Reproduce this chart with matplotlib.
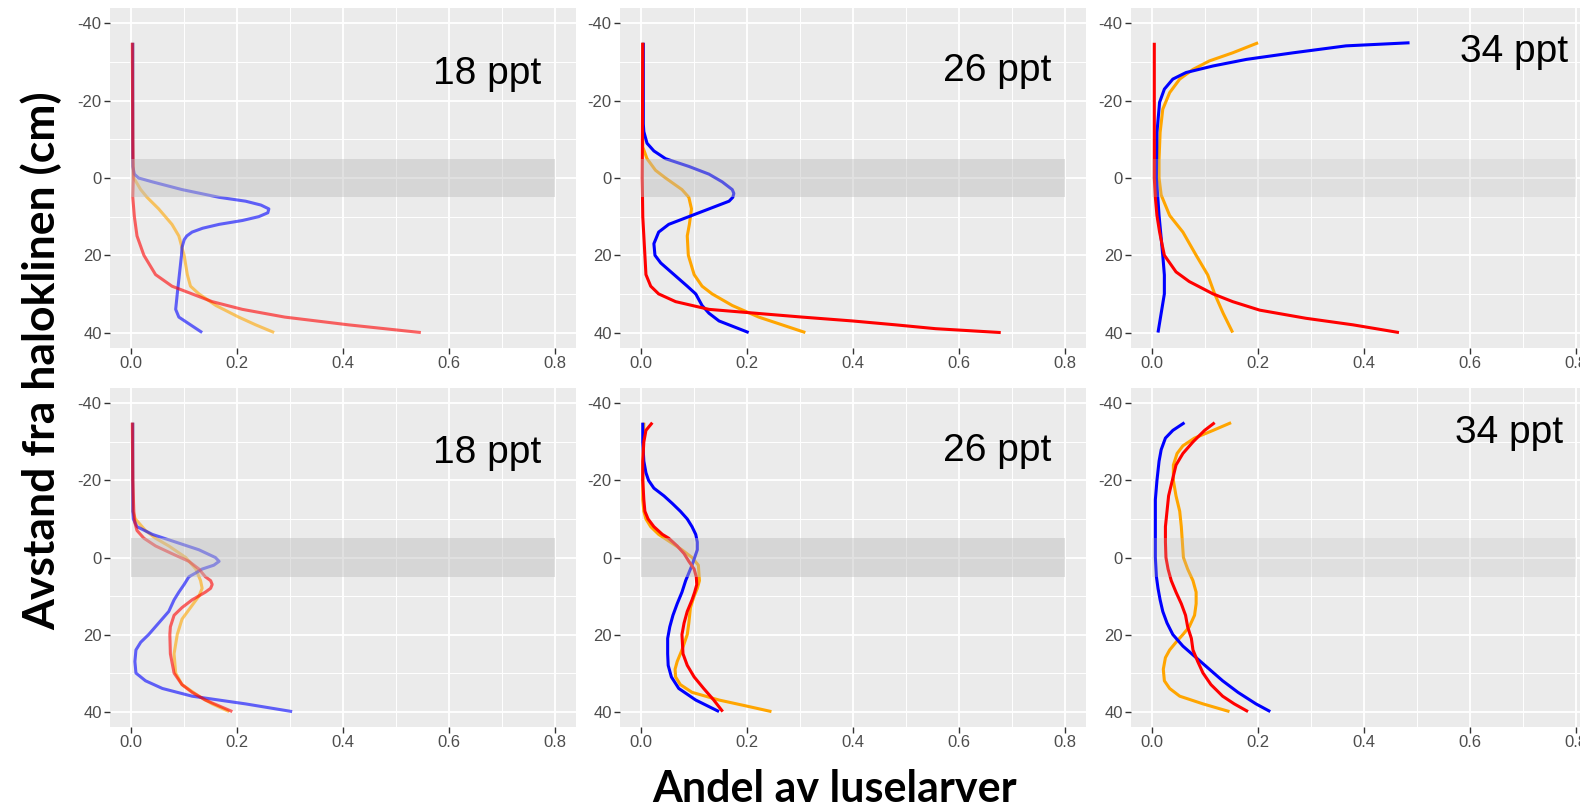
import numpy as np
import matplotlib
matplotlib.use("Agg")
import matplotlib.pyplot as plt

plt.rcParams["axes.unicode_minus"] = False

# Depth profiles (distance from halocline, cm) vs share of larvae, one list per line.
# Each entry is (depth, share).
top18_red = [(-35, 0.002), (-10, 0.003), (0, 0.004), (5, 0.003), (10, 0.006), (15, 0.011),
             (20, 0.024), (25, 0.046), (28, 0.077), (30, 0.115), (32, 0.153), (34, 0.21),
             (36, 0.29), (38, 0.41), (40, 0.547)]
top18_orange = [(-35, 0.003), (-5, 0.003), (0, 0.005), (3, 0.018), (5, 0.03), (8, 0.052),
                (12, 0.077), (15, 0.09), (20, 0.1), (25, 0.106), (28, 0.112), (30, 0.128),
                (33, 0.16), (36, 0.203), (38, 0.235), (40, 0.27)]
top18_blue = [(-35, 0.003), (-3, 0.003), (-1, 0.006), (0, 0.014), (1, 0.04), (3, 0.096),
              (5, 0.166), (6, 0.216), (7, 0.245), (8, 0.26), (9, 0.258), (10, 0.241),
              (11, 0.21), (12, 0.166), (13, 0.135), (14, 0.115), (15, 0.105), (16, 0.1),
              (18, 0.096), (20, 0.095), (25, 0.091), (30, 0.087), (34, 0.084), (36, 0.09),
              (38, 0.112), (40, 0.134)]

top26_red = [(-35, 0.003), (0, 0.002), (10, 0.003), (20, 0.007), (25, 0.009), (28, 0.018),
             (30, 0.033), (32, 0.065), (34, 0.128), (35, 0.216), (36, 0.304), (37, 0.399),
             (38, 0.48), (39, 0.556), (40, 0.679)]
top26_orange = [(-35, 0.003), (-10, 0.003), (-8, 0.003), (-5, 0.011), (-2, 0.027), (0, 0.046),
                (3, 0.077), (5, 0.09), (8, 0.095), (12, 0.091), (15, 0.087), (20, 0.089),
                (25, 0.1), (28, 0.115), (30, 0.134), (33, 0.172), (36, 0.222), (38, 0.266),
                (40, 0.31)]
top26_blue = [(-35, 0.004), (-14, 0.004), (-12, 0.005), (-9, 0.011), (-7, 0.024), (-5, 0.046),
              (-3, 0.09), (-1, 0.128), (1, 0.153), (3, 0.172), (4, 0.175), (5, 0.173),
              (6, 0.166), (8, 0.128), (10, 0.09), (12, 0.052), (14, 0.033), (17, 0.024),
              (20, 0.026), (22, 0.037), (25, 0.062), (28, 0.087), (30, 0.103), (33, 0.115),
              (35, 0.128), (37, 0.147), (40, 0.203)]

top34_red = [(-35, 0.004), (0, 0.004), (5, 0.006), (9.7, 0.009), (14, 0.014), (17.4, 0.019),
             (20, 0.023), (24.3, 0.045), (26.8, 0.07), (30, 0.115), (32, 0.152), (34.2, 0.203),
             (36.3, 0.29), (38, 0.379), (40, 0.466)]
top34_orange = [(-35, 0.2), (-32.4, 0.152), (-30.3, 0.108), (-28.1, 0.077), (-25.6, 0.052),
                (-22.1, 0.033), (-17.8, 0.02), (-11.8, 0.015), (-5, 0.013), (0, 0.013),
                (4.4, 0.017), (9.7, 0.033), (14, 0.058), (20, 0.083), (25.1, 0.105),
                (30, 0.118), (35, 0.134), (40, 0.152)]
top34_blue = [(-35, 0.486), (-34.2, 0.366), (-32.4, 0.266), (-30.7, 0.178), (-29, 0.115),
              (-27.3, 0.064), (-25.6, 0.039), (-23, 0.023), (-19.6, 0.014), (-11.8, 0.009),
              (0, 0.008), (9.7, 0.013), (20, 0.02), (25.1, 0.023), (30, 0.023), (35, 0.017),
              (40, 0.011)]

bot18_red = [(-35, 0.002), (-20, 0.003), (-12, 0.005), (-9, 0.007), (-7, 0.011), (-5, 0.024),
             (-3, 0.046), (-1, 0.077), (1, 0.109), (3, 0.128), (5, 0.14), (6, 0.15), (7, 0.153),
             (8, 0.15), (9, 0.14), (11, 0.115), (13, 0.096), (15, 0.081), (18, 0.074),
             (20, 0.073), (25, 0.074), (30, 0.081), (33, 0.096), (35, 0.115), (37, 0.14),
             (40, 0.191)]
bot18_orange = [(-35, 0.003), (-12, 0.003), (-10, 0.008), (-7, 0.027), (-5, 0.046), (-3, 0.071),
                (0, 0.103), (3, 0.122), (6, 0.131), (8, 0.134), (10, 0.128), (13, 0.112),
                (16, 0.096), (20, 0.087), (25, 0.081), (30, 0.084), (33, 0.096), (36, 0.128),
                (38, 0.153), (40, 0.185)]
bot18_blue = [(-35, 0.003), (-12, 0.003), (-10, 0.004), (-8, 0.011), (-6, 0.04), (-4, 0.084),
              (-2, 0.128), (0, 0.159), (1, 0.166), (2, 0.156), (3, 0.134), (4, 0.122),
              (5, 0.109), (7, 0.1), (9, 0.09), (11, 0.081), (14, 0.071), (17, 0.052),
              (20, 0.033), (22, 0.018), (24, 0.009), (27, 0.007), (30, 0.009), (32, 0.027),
              (34, 0.059), (36, 0.115), (38, 0.216), (40, 0.304)]

bot26_red = [(-35, 0.021), (-33, 0.009), (-30, 0.005), (-25, 0.003), (-20, 0.003), (-15, 0.005),
             (-12, 0.007), (-10, 0.013), (-8, 0.024), (-6, 0.04), (-5, 0.052), (-3, 0.068),
             (-1, 0.081), (1, 0.09), (3, 0.1), (5, 0.104), (7, 0.105), (9, 0.101), (11, 0.096),
             (14, 0.087), (17, 0.081), (20, 0.077), (25, 0.079), (28, 0.087), (31, 0.1),
             (34, 0.118), (37, 0.137), (40, 0.154)]
bot26_orange = [(-35, 0.005), (-20, 0.003), (-15, 0.003), (-12, 0.005), (-10, 0.009),
                (-8, 0.018), (-6, 0.033), (-4, 0.055), (-2, 0.077), (0, 0.096), (2, 0.108),
                (4, 0.109), (6, 0.11), (8, 0.106), (10, 0.1), (13, 0.093), (17, 0.09),
                (20, 0.087), (24, 0.077), (27, 0.068), (29, 0.064), (31, 0.065), (33, 0.074),
                (35, 0.096), (37, 0.147), (38.5, 0.197), (40, 0.246)]
bot26_blue = [(-35, 0.003), (-30, 0.003), (-25, 0.005), (-22, 0.009), (-20, 0.014), (-18, 0.024),
              (-16, 0.043), (-14, 0.059), (-12, 0.074), (-10, 0.087), (-8, 0.096), (-6, 0.103),
              (-4, 0.106), (-2, 0.106), (0, 0.101), (2, 0.096), (4, 0.09), (6, 0.084),
              (9, 0.077), (12, 0.068), (15, 0.06), (18, 0.054), (21, 0.05), (25, 0.05),
              (28, 0.051), (31, 0.057), (34, 0.071), (37, 0.103), (40, 0.147)]

bot34_red = [(-35, 0.118), (-33, 0.099), (-30, 0.077), (-27, 0.058), (-24, 0.045), (-20, 0.038),
             (-16, 0.031), (-12, 0.028), (-8, 0.025), (-4, 0.025), (0, 0.026), (3, 0.03),
             (6, 0.036), (9, 0.045), (12, 0.055), (15, 0.063), (18, 0.067), (21, 0.074),
             (24, 0.077), (27, 0.086), (30, 0.096), (33, 0.111), (36, 0.133), (38, 0.155),
             (40, 0.181)]
bot34_orange = [(-35, 0.149), (-33, 0.115), (-31, 0.08), (-29, 0.058), (-27, 0.047), (-24, 0.04),
                (-20, 0.04), (-16, 0.045), (-12, 0.052), (-8, 0.055), (-4, 0.057), (0, 0.059),
                (3, 0.067), (6, 0.077), (9, 0.083), (12, 0.083), (15, 0.08), (18, 0.07),
                (20, 0.058), (22, 0.045), (24, 0.033), (26, 0.025), (29, 0.021), (32, 0.023),
                (34, 0.033), (36, 0.052), (38, 0.096), (40, 0.146)]
bot34_blue = [(-35, 0.061), (-33, 0.039), (-31, 0.025), (-28, 0.017), (-25, 0.013), (-20, 0.009),
              (-15, 0.006), (-10, 0.006), (0, 0.006), (5, 0.008), (8, 0.011), (11, 0.015),
              (14, 0.02), (17, 0.028), (20, 0.039), (23, 0.058), (26, 0.083), (29, 0.108),
              (32, 0.133), (35, 0.162), (38, 0.196), (40, 0.223)]

salinity_labels = ["18 ppt", "26 ppt", "34 ppt"]
panels = [
    [top18_orange, top18_blue, top18_red],
    [top26_orange, top26_blue, top26_red],
    [top34_orange, top34_blue, top34_red],
    [bot18_orange, bot18_blue, bot18_red],
    [bot26_orange, bot26_blue, bot26_red],
    [bot34_orange, bot34_blue, bot34_red],
]
line_colors = ["#FFA500", "#0000FF", "#FF0000"]

W, H = 1580, 811
# panel boxes in pixels: left, top, right, bottom
boxes = [(110, 8, 576, 348), (620, 8, 1086, 348), (1131, 8, 1597, 348),
         (110, 388, 576, 727), (620, 388, 1086, 727), (1131, 388, 1597, 727)]
line_alpha = [0.6, 1, 1, 0.6, 1, 1]
band_alpha = [0.45, 0.45, 0.25, 0.45, 0.45, 0.25]
label_pos = [(0.775, -24.4), (0.775, -25.2), (0.785, -30.0),
             (0.775, -24.6), (0.775, -25.0), (0.776, -29.8)]

fig = plt.figure(figsize=(W / 100, H / 100), dpi=100)
fig.patch.set_facecolor("white")

for i, (box, series) in enumerate(zip(boxes, panels)):
    l, t, r, b = box
    ax = fig.add_axes([l / W, 1 - b / H, (r - l) / W, (b - t) / H])
    ax.set_facecolor("#EBEBEB")
    for s in ax.spines.values():
        s.set_visible(False)
    ax.set_xlim(-0.04, 0.84)
    ax.set_ylim(44, -44)
    ax.set_xticks([0, 0.2, 0.4, 0.6, 0.8])
    ax.set_xticks([0.1, 0.3, 0.5, 0.7], minor=True)
    ax.set_yticks([-40, -20, 0, 20, 40])
    ax.set_yticks([-30, -10, 10, 30], minor=True)
    ax.set_xticklabels(["0.0", "0.2", "0.4", "0.6", "0.8"])
    ax.grid(which="major", color="white", lw=1.3)
    ax.grid(which="minor", color="white", lw=0.7)
    ax.set_axisbelow(True)
    ax.tick_params(which="major", length=4, width=1, color="#333333", pad=2,
                   labelsize=12, labelcolor="#4D4D4D")
    ax.tick_params(which="minor", length=0)
    for txt in ax.get_xticklabels() + ax.get_yticklabels():
        txt.set_family("Liberation Sans")

    for pts, col in zip(series, line_colors):
        arr = np.array(pts)
        ax.plot(arr[:, 1], arr[:, 0], color=col, lw=2.2, alpha=line_alpha[i],
                solid_capstyle="butt", solid_joinstyle="round", zorder=3)

    # halocline band, drawn over the lines
    ax.fill_between([0, 0.8], -5, 5, color="#BEBEBE", alpha=band_alpha[i], lw=0, zorder=4)

    lx, ly = label_pos[i]
    ax.text(lx, ly, salinity_labels[i % 3], ha="right", va="baseline",
            fontsize=28, family="Liberation Sans", color="black", zorder=5)

fig.text(41 / W, 1 - 361 / H, "Avstand fra haloklinen (cm)", rotation=90,
         ha="center", va="center", fontsize=32, fontweight="bold", family="Lato")
fig.text(835 / W, 1 - 789 / H, "Andel av luselarver", ha="center", va="center",
         fontsize=31, fontweight="bold", family="Lato")

fig.savefig("out.png", dpi=100)
